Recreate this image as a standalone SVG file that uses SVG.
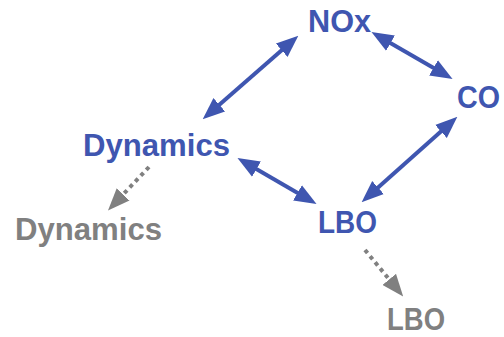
<svg xmlns="http://www.w3.org/2000/svg" width="504" height="337" viewBox="0 0 504 337">
<style>
text{font-family:"Liberation Sans",Arial,sans-serif;font-weight:bold;font-size:32px}
.b{fill:#3F56B0}
.g{fill:#808080}
.lb{stroke:#3F56B0;stroke-width:4;fill:none}
.lg{stroke:#808080;stroke-width:4;fill:none;stroke-dasharray:4 4}
</style>
<defs>
<marker id="ab" markerUnits="userSpaceOnUse" markerWidth="22" markerHeight="18" viewBox="0 0 20 16" refX="2" refY="8" orient="auto-start-reverse"><path d="M0,0 L20,8 L0,16 z" fill="#3F56B0"/></marker>
<marker id="ag" markerUnits="userSpaceOnUse" markerWidth="22" markerHeight="18" viewBox="0 0 20 16" refX="2" refY="8" orient="auto"><path d="M0,0 L20,8 L0,16 z" fill="#808080"/></marker>
</defs>
<g id="connectors">
<line class="lb" x1="217.6" y1="106.2" x2="283.4" y2="48.8" marker-start="url(#ab)" marker-end="url(#ab)"/>
<line class="lb" x1="388.6" y1="42" x2="435.4" y2="69" marker-start="url(#ab)" marker-end="url(#ab)"/>
<line class="lb" x1="442.6" y1="130" x2="376.4" y2="189" marker-start="url(#ab)" marker-end="url(#ab)"/>
<line class="lb" x1="254.6" y1="168" x2="299.4" y2="194" marker-start="url(#ab)" marker-end="url(#ab)"/>
<line class="lg" x1="149" y1="167" x2="121.6" y2="196" marker-end="url(#ag)"/>
<line class="lg" x1="365" y1="250" x2="390.6" y2="281.1" marker-end="url(#ag)"/>
</g>
<g id="nox"><text class="b" x="308" y="32" textLength="63" lengthAdjust="spacingAndGlyphs">NOx</text></g>
<g id="co"><text class="b" x="457" y="108" textLength="43" lengthAdjust="spacingAndGlyphs">CO</text></g>
<g id="dynamics"><text class="b" x="83" y="156" textLength="147" lengthAdjust="spacingAndGlyphs">Dynamics</text></g>
<g id="lbo"><text class="b" x="318" y="233" textLength="59" lengthAdjust="spacingAndGlyphs">LBO</text></g>
<g id="dynamics-out"><text class="g" x="15" y="240" textLength="147" lengthAdjust="spacingAndGlyphs">Dynamics</text></g>
<g id="lbo-out"><text class="g" x="387" y="330" textLength="58" lengthAdjust="spacingAndGlyphs">LBO</text></g>
</svg>
